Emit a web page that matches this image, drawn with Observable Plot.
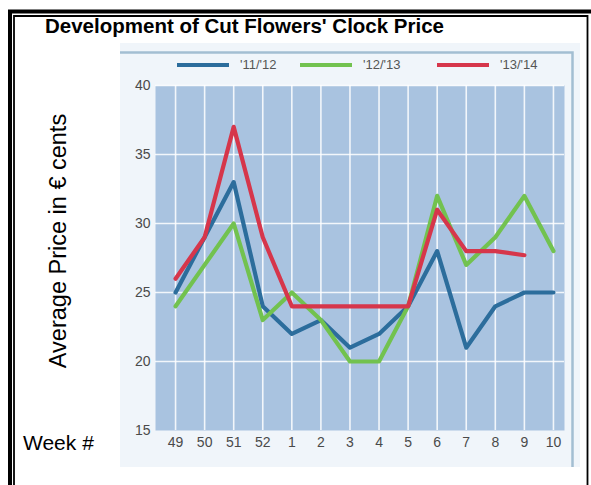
<!DOCTYPE html>
<html><head><meta charset="utf-8">
<script src="https://cdn.jsdelivr.net/npm/d3@7"></script>
<script src="https://cdn.jsdelivr.net/npm/@observablehq/plot@0.6"></script>
<style>body{margin:0;background:#fff;} svg{display:block;}</style>
</head><body><div id="chart"></div>
<script>
const weeks = ["49","50","51","52","1","2","3","4","5","6","7","8","9","10"];
const season1112 = [25,29,33,24,22,23,21,22,24,28,21,24,25,25];
const season1213 = [24,27,30,23,25,23,20,20,24,32,27,29,32,28];
const season1314 = [26,29,37,29,24,24,24,24,24,31,28,28,27.7];
const seriesNames = ["'11/'12","'12/'13","'13/'14"];
const seriesColors = ["#2c6d9c","#72c24f","#d6364b"];
const yTicks = [15,20,25,30,35,40];

const allSeries = [season1112, season1213, season1314];
const data = [];
allSeries.forEach((vals, s) => vals.forEach((v, i) => data.push({i, week: weeks[i], value: v, series: seriesNames[s]})));
const weekIdx = weeks.map((w, i) => i);
const FONT = "'Liberation Sans', Arial, sans-serif";

const chart = Plot.plot({
  width: 591, height: 485,
  marginLeft: 155, marginRight: 27, marginTop: 85, marginBottom: 55,
  style: {background: "transparent", fontFamily: FONT},
  x: {domain: [-0.69, 13.38], label: null},
  y: {domain: [15, 40], label: null},
  color: {domain: seriesNames, range: seriesColors},
  marks: [
    Plot.frame({fill: "#a9c3e0", stroke: "none"}),
    Plot.gridX(weekIdx, {stroke: "#ffffff", strokeOpacity: 0.85, strokeWidth: 1.6}),
    Plot.gridY(yTicks.slice(1), {stroke: "#ffffff", strokeOpacity: 0.85, strokeWidth: 1.6}),
    Plot.line(data, {x: "i", y: "value", stroke: "series", z: "series", strokeWidth: 4.2}),
    Plot.axisX(weekIdx, {tickFormat: i => weeks[i], tickSize: 0, tickPadding: 7, fontSize: 14, fill: "#4a4a4a", label: null}),
    Plot.axisY(yTicks, {tickSize: 0, tickPadding: 5, fontSize: 14, fill: "#4a4a4a", label: null})
  ]
});
document.getElementById("chart").appendChild(chart);

const svg = d3.select(chart);
// light panel behind the plot
const panel = svg.insert("g", ":first-child");
panel.append("rect").attr("x", 120).attr("y", 43).attr("width", 460).attr("height", 424).attr("fill", "#f0f5fa");
panel.append("path").attr("d", "M120,52.5H572.5V467").attr("fill", "none").attr("stroke", "#a3bed2").attr("stroke-width", 2.5);

// legend
const lg = svg.append("g").attr("text-anchor", "start");
const legX = [177, 300, 437];
seriesNames.forEach((n, k) => {
  lg.append("line").attr("x1", legX[k]).attr("x2", legX[k] + 52).attr("y1", 65).attr("y2", 65)
    .attr("stroke", seriesColors[k]).attr("stroke-width", 4);
  lg.append("text").attr("x", legX[k] + 63).attr("y", 64).attr("dy", "0.35em").attr("text-anchor", "start")
    .attr("font-size", 13).attr("fill", "#555").attr("font-family", FONT).text(n);
});

// outer double frame
const fr = svg.append("g").attr("fill", "none").attr("stroke", "#000");
fr.append("path").attr("d", "M10,490V11.5H600").attr("stroke-width", 4);
fr.append("path").attr("d", "M14,490V16H587.5V490").attr("stroke-width", 1.8);

// title and axis titles
svg.append("text").attr("x", 45).attr("y", 32.5).attr("text-anchor", "start").attr("font-size", 20.5).attr("font-weight", "bold")
  .attr("font-family", FONT).attr("fill", "#000")
  .text("Development of Cut Flowers' Clock Price");
svg.append("text").attr("transform", "translate(66,241) rotate(-90)").attr("text-anchor", "middle")
  .attr("font-size", 23.5).attr("font-family", FONT).attr("fill", "#000")
  .text("Average Price in € cents");
svg.append("text").attr("x", 23).attr("y", 450).attr("text-anchor", "start").attr("font-size", 21)
  .attr("font-family", FONT).attr("fill", "#000")
  .text("Week #");
</script>
</body></html>
